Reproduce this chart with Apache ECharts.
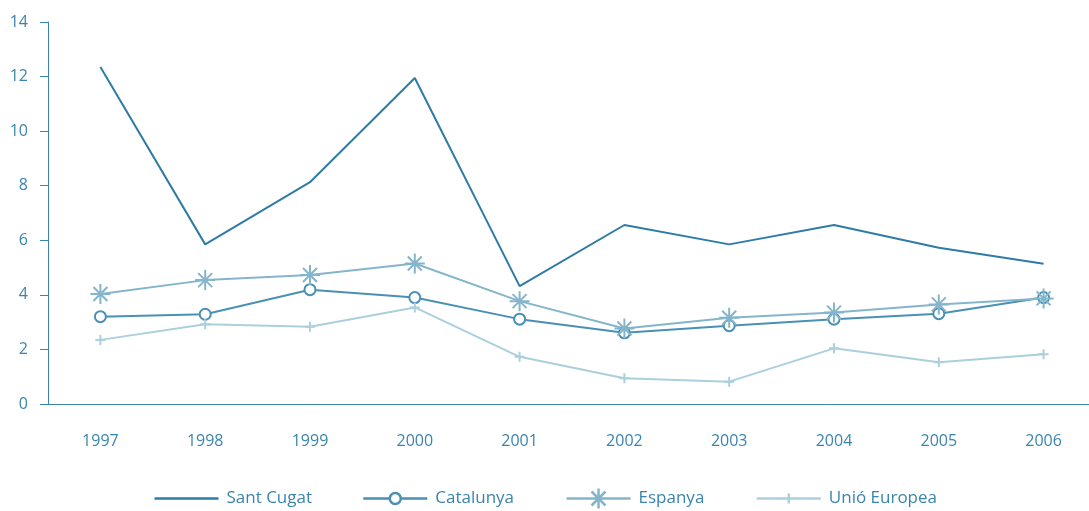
<!DOCTYPE html>
<html>
<head>
<meta charset="utf-8">
<script src="https://cdn.jsdelivr.net/npm/echarts@6/dist/echarts.min.js"></script>
<style>
    html, body { margin: 0; padding: 0; background: #fff; }
    #main { width: 1089px; height: 511px; }
</style>
</head>
<body>
<div id="main"></div>
<script>
    var years = ['1997', '1998', '1999', '2000', '2001', '2002', '2003', '2004', '2005', '2006'];
    var santCugat = [12.35, 5.85, 8.13, 11.95, 4.32, 6.56, 5.85, 6.56, 5.73, 5.14];
    var catalunya = [3.2, 3.29, 4.19, 3.9, 3.11, 2.61, 2.87, 3.11, 3.31, 3.9];
    var espanya = [4.03, 4.54, 4.73, 5.15, 3.77, 2.77, 3.16, 3.35, 3.65, 3.87];
    var unioEuropea = [2.35, 2.92, 2.83, 3.54, 1.73, 0.94, 0.82, 2.04, 1.53, 1.82];

    var textColor = '#3a85ad';
    var fontFamily = '"Open Sans", "Noto Sans", sans-serif';
    var c1 = '#2e7ca6', c2 = '#4a90b5', c3 = '#85b5cb', c4 = '#abcfdd';

    // legend icons: line + marker drawn in a 64x20 box
    var iconLine = 'path://M0,0M0,20M0,10L64,10';
    var iconCircle = 'path://M0,0M0,20M0,10L26.5,10M37.5,10L64,10M26.5,10A5.5,5.5 0 1,1 37.5,10A5.5,5.5 0 1,1 26.5,10Z';
    var iconStar = 'path://M0,10L64,10M32,0L32,20M25,3L39,17M25,17L39,3';
    var iconPlus = 'path://M0,0M0,20M0,10L64,10M32,5L32,15';

    var chart = echarts.init(document.getElementById('main'));
    chart.setOption({
        animation: false,
        textStyle: {fontFamily: fontFamily},
        grid: {
            left: 48,
            top: 22,
            width: 1048,
            height: 382,
            outerBoundsMode: 'none'
        },
        legend: {
            bottom: 0,
            left: 'center',
            padding: [0, 5],
            itemWidth: 64,
            itemHeight: 20,
            itemGap: 50,
            textStyle: {color: textColor, fontSize: 17, fontFamily: fontFamily, padding: [0, 0, 0, 3]},
            data: [
                {name: 'Sant Cugat', icon: iconLine, itemStyle: {color: 'none', borderColor: c1, borderWidth: 2.5}},
                {name: 'Catalunya', icon: iconCircle, itemStyle: {color: '#fff', borderColor: c2, borderWidth: 2.5}},
                {name: 'Espanya', icon: iconStar, itemStyle: {color: 'none', borderColor: c3, borderWidth: 2.5}},
                {name: 'Unió Europea', icon: iconPlus, itemStyle: {color: 'none', borderColor: c4, borderWidth: 2.5}}
            ]
        },
        xAxis: {
            type: 'category',
            boundaryGap: true,
            data: years,
            axisLine: {lineStyle: {color: textColor, width: 1}},
            axisTick: {length: 8, lineStyle: {color: textColor}},
            axisLabel: {color: textColor, fontSize: 16, margin: 29}
        },
        yAxis: {
            type: 'value',
            min: 0,
            max: 14,
            interval: 2,
            splitLine: {show: false},
            axisLine: {show: true, lineStyle: {color: textColor, width: 1}},
            axisTick: {show: true, length: 8, lineStyle: {color: textColor}},
            axisLabel: {color: textColor, fontSize: 16, margin: 20}
        },
        series: [
            {
                name: 'Sant Cugat',
                type: 'line',
                data: santCugat,
                symbol: 'none',
                color: c1,
                lineStyle: {color: c1, width: 2}
            },
            {
                name: 'Catalunya',
                type: 'line',
                data: catalunya,
                symbol: 'emptyCircle',
                symbolSize: 11,
                color: c2,
                itemStyle: {color: c2, borderColor: c2, borderWidth: 2.5},
                lineStyle: {color: c2, width: 2}
            },
            {
                name: 'Espanya',
                type: 'line',
                data: espanya,
                symbol: 'path://M10,0L10,20M0,10L20,10M3,3L17,17M3,17L17,3',
                symbolSize: 20,
                color: c3,
                itemStyle: {color: c3, borderColor: c3, borderWidth: 2},
                lineStyle: {color: c3, width: 2}
            },
            {
                name: 'Unió Europea',
                type: 'line',
                data: unioEuropea,
                symbol: 'path://M5,0L5,10M0,5L10,5',
                symbolSize: 10,
                color: c4,
                itemStyle: {color: c4, borderColor: c4, borderWidth: 2},
                lineStyle: {color: c4, width: 2}
            }
        ]
    });
</script>
</body>
</html>
